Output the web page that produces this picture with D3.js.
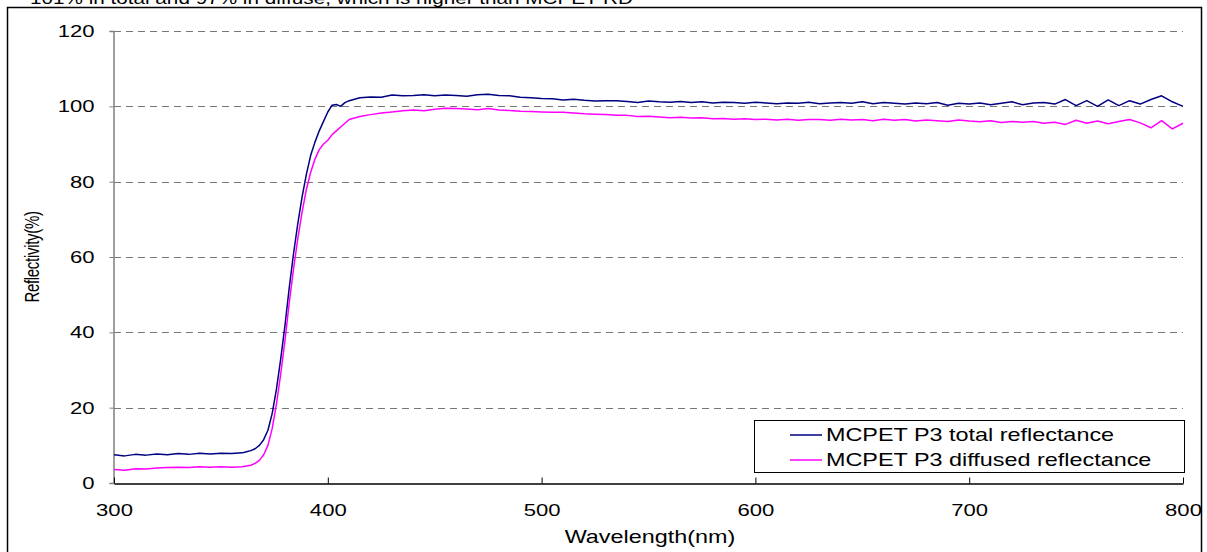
<!DOCTYPE html>
<html>
<head>
<meta charset="utf-8">
<script src="https://cdn.jsdelivr.net/npm/d3@7"></script>
<style>
  body { margin: 0; background: #fff; }
  svg { display: block; font-family: Arial, "Liberation Sans", sans-serif; }
</style>
</head>
<body>
<svg id="chart" width="1207" height="552"></svg>
<script>
// wavelength samples (nm)
var wavelengths = [
  300, 305, 310, 315, 320, 325, 330, 335, 340, 345, 350, 355, 360,
  362, 364, 366, 368, 370, 372, 374, 376, 378, 380, 382, 384, 386, 388, 390,
  392, 394, 396, 398, 400, 402, 404, 406, 408, 410,
  415, 420, 425, 430, 435, 440, 445, 450, 455, 460, 465, 470, 475, 480, 485,
  490, 495, 500, 505, 510, 515, 520, 525, 530, 535, 540, 545, 550, 555, 560,
  565, 570, 575, 580, 585, 590, 595, 600, 605, 610, 615, 620, 625, 630, 635,
  640, 645, 650, 655, 660, 665, 670, 675, 680, 685, 690, 695, 700, 705, 710,
  715, 720, 725, 730, 735, 740, 745, 750, 755, 760, 765, 770, 775, 780, 785,
  790, 795, 800
];
// MCPET P3 total reflectance (%)
var totalRefl = [
  7.5, 7.2, 7.6, 7.4, 7.7, 7.5, 7.8, 7.6, 7.9, 7.7, 7.9, 7.8, 8.0,
  8.3, 8.6, 9.1, 10.0, 11.5, 14.0, 18.5, 25, 33, 42, 52, 61, 69, 76, 82,
  87, 90.5, 93.5, 96, 98.5, 100.3, 100.5, 100.0, 101.0, 101.5,
  102.3, 102.5, 102.4, 103.0, 102.8, 102.9, 103.1, 102.8, 103.0, 102.9, 102.7, 103.1, 103.2, 102.9, 102.8,
  102.4, 102.3, 102.1, 102.0, 101.7, 101.9, 101.6, 101.4, 101.5, 101.5, 101.3, 101.0, 101.4, 101.2, 101.1,
  101.3, 101.0, 101.2, 100.9, 101.1, 101.0, 100.8, 101.1, 100.9, 100.7, 100.9, 100.8, 101.1, 100.7, 100.9,
  101.0, 100.8, 101.2, 100.7, 101.0, 100.8, 100.6, 100.9, 100.7, 101.0, 100.3, 100.8, 100.6, 100.9, 100.4,
  100.8, 101.2, 100.4, 100.9, 101.0, 100.6, 101.8, 100.2, 101.5, 100.0, 101.7, 100.2, 101.5, 100.6, 101.8,
  102.8, 101.2, 100.0
];
// MCPET P3 diffused reflectance (%)
var diffuseRefl = [
  3.6, 3.4, 3.8, 3.7, 4.0, 4.1, 4.2, 4.1, 4.3, 4.2, 4.3, 4.2, 4.3,
  4.5, 4.7, 5.2, 6.0, 7.5, 10, 14.5, 21, 29, 38, 48, 57, 65, 72, 78,
  82.5, 86, 88.5, 90, 91, 92.5, 93.5, 94.5, 95.5, 96.5,
  97.3, 97.8, 98.2, 98.5, 98.8, 99.0, 98.8, 99.2, 99.5, 99.4, 99.3, 99.1, 99.4, 99.0, 98.9,
  98.7, 98.6, 98.5, 98.4, 98.4, 98.2, 98.0, 97.9, 97.8, 97.6, 97.6, 97.3, 97.4, 97.2, 97.0,
  97.1, 96.9, 97.0, 96.7, 96.8, 96.6, 96.7, 96.5, 96.6, 96.4, 96.6, 96.3, 96.5, 96.5, 96.3,
  96.6, 96.4, 96.5, 96.2, 96.6, 96.3, 96.5, 96.1, 96.4, 96.2, 96.0, 96.4, 96.1, 95.9, 96.2,
  95.7, 96.0, 95.8, 96.0, 95.5, 95.8, 95.2, 96.3, 95.5, 96.1, 95.4, 96.0, 96.5, 95.6, 94.3,
  96.2, 94.0, 95.5
];
var xTicks = [300, 400, 500, 600, 700, 800];
var yTicks = [0, 20, 40, 60, 80, 100, 120];
var seriesNames = ['MCPET P3 total reflectance', 'MCPET P3 diffused reflectance'];
var seriesColors = ['#000080', '#ff00ff'];

// the source picture is stretched sideways, so all text is widened
var STRETCH = 1.3;
var svg = d3.select('#chart');

// outer chart border and the cut-off caption above it
svg.append('text')
    .attr('x', 30)
    .attr('y', 4)
    .style('font-size', '17px')
    .attr('fill', '#000')
    .attr('textLength', 603)
    .attr('lengthAdjust', 'spacingAndGlyphs')
    .text('101% in total and 97% in diffuse, which is higher than MCPET RD');
svg.append('rect')
    .attr('x', 7.5).attr('y', 7.5)
    .attr('width', 1194).attr('height', 560)
    .attr('fill', 'none').attr('stroke', '#000').attr('stroke-width', 1.5);

var x = d3.scaleLinear().domain([300, 800]).range([114, 1183]);
var y = d3.scaleLinear().domain([0, 120]).range([483, 31]);

// dashed gridlines
svg.append('g').selectAll('line')
    .data(yTicks.filter(function (d) { return d > 0; }))
    .enter().append('line')
    .attr('x1', x(300)).attr('x2', x(800))
    .attr('y1', function (d) { return Math.round(y(d)) + 0.5; })
    .attr('y2', function (d) { return Math.round(y(d)) + 0.5; })
    .attr('stroke', '#777')
    .attr('stroke-width', 1.2)
    .attr('stroke-dasharray', '7,5');

// y axis
var yAxis = svg.append('g')
    .attr('transform', 'translate(' + (x(300) - 0.5) + ',0)')
    .call(d3.axisLeft(y).tickValues(yTicks).tickSize(4));
yAxis.select('.domain').attr('stroke', '#808080').attr('stroke-width', 1.5);
yAxis.selectAll('.tick line').attr('stroke', '#808080');
yAxis.selectAll('.tick text')
    .attr('x', 0)
    .attr('transform', 'translate(-19,0) scale(' + STRETCH + ',1)')
    .style('font-size', '17px')
    .style('font-family', 'Arial, "Liberation Sans", sans-serif')
    .attr('fill', '#000');

// x axis, ticks pointing inward
var xAxis = svg.append('g')
    .attr('transform', 'translate(0,' + (y(0) + 0.5) + ')')
    .call(d3.axisBottom(x).tickValues(xTicks).tickSizeInner(-6).tickSizeOuter(0).tickPadding(20));
xAxis.select('.domain').attr('stroke', '#000').attr('stroke-width', 1.5);
xAxis.selectAll('.tick line').attr('stroke', '#000');
xAxis.selectAll('.tick text')
    .attr('transform', 'scale(' + STRETCH + ',1)')
    .style('font-size', '17px')
    .style('font-family', 'Arial, "Liberation Sans", sans-serif')
    .attr('fill', '#000');

// axis titles
svg.append('text')
    .attr('transform', 'translate(39,257) scale(' + STRETCH + ',1) rotate(-90)')
    .attr('text-anchor', 'middle')
    .style('font-size', '15px')
    .style('letter-spacing', '-0.3px')
    .text('Reflectivity(%)');
svg.append('text')
    .attr('transform', 'translate(650,543) scale(' + STRETCH + ',1)')
    .attr('text-anchor', 'middle')
    .style('font-size', '18px')
    .text('Wavelength(nm)');

// curves
var line = d3.line()
    .x(function (d) { return x(d[0]); })
    .y(function (d) { return y(d[1]); });
[totalRefl, diffuseRefl].forEach(function (vals, i) {
    svg.append('path')
        .datum(wavelengths.map(function (w, k) { return [w, vals[k]]; }))
        .attr('fill', 'none')
        .attr('stroke', seriesColors[i])
        .attr('stroke-width', 1.5)
        .attr('stroke-linejoin', 'round')
        .attr('d', line);
});

// legend
var legend = svg.append('g');
legend.append('rect')
    .attr('x', 754.5).attr('y', 420.5)
    .attr('width', 430).attr('height', 52)
    .attr('fill', '#fff').attr('stroke', '#000').attr('stroke-width', 1);
seriesNames.forEach(function (name, i) {
    var ly = 435 + i * 25;
    legend.append('line')
        .attr('x1', 790).attr('x2', 822)
        .attr('y1', ly).attr('y2', ly)
        .attr('stroke', seriesColors[i]).attr('stroke-width', 1.5);
    legend.append('text')
        .attr('transform', 'translate(826,' + (ly + 6) + ') scale(' + STRETCH + ',1)')
        .style('font-size', '18px')
        .text(name);
});
</script>
</body>
</html>
